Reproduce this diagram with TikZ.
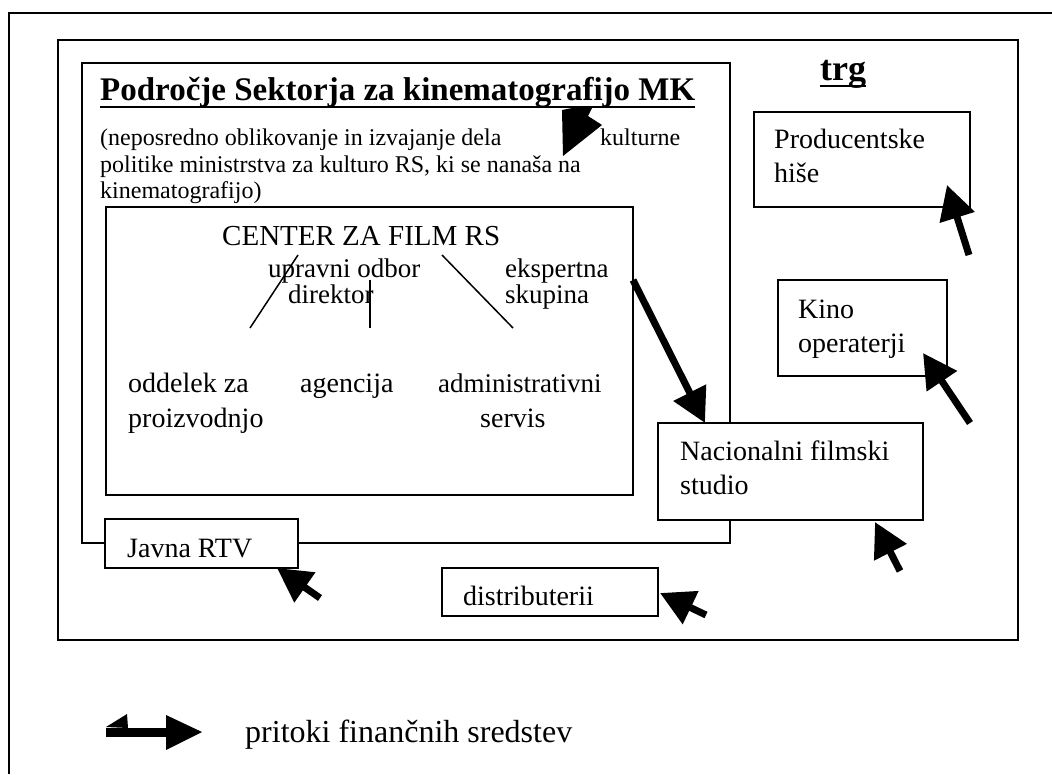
\documentclass[tikz,border=0pt]{standalone}
\usepackage{fontspec}
\setmainfont{Liberation Serif}
\usetikzlibrary{arrows.meta}
\begin{document}
\begin{tikzpicture}[x=1pt,y=-1pt,
  frame/.style={line width=2pt},
  box/.style={draw, line width=1.5pt},
  wbox/.style={draw, line width=1.5pt, fill=white},
  lbl/.style={anchor=base west, inner sep=0pt, align=left, font=\fontsize{28}{34}\selectfont},
  clbl/.style={anchor=base west, inner sep=0pt, align=left, font=\fontsize{27}{30}\selectfont},
  body/.style={anchor=base west, inner sep=0pt, align=left, font=\fontsize{24}{26.5}\selectfont},
  ttl/.style={anchor=base west, inner sep=0pt, font=\fontsize{33}{36}\selectfont\bfseries},
  thin/.style={line width=1.5pt},
  flow/.style={line width=7pt, -{Triangle[length=34pt 0 0, width=35pt 0 0]}},
  ulin/.style={line width=2.5pt}
]
\useasboundingbox (0,0) rectangle (1052,774);
% outer frame (top and left only)
\draw[frame] (1052,13) -- (9,13) -- (9,774);
% market rectangle
\draw[frame] (58,40) rectangle (1018,640);
\node[ttl, font=\fontsize{36}{40}\selectfont\bfseries] (trg) at (820,80) {trg};
\draw[ulin] ([yshift=-6pt]trg.base west) -- ([yshift=-6pt]trg.base east);
% sector box
\draw[box] (82,63) rectangle (730,543);
\node[ttl] (title) at (100,100) {Področje Sektorja za kinematografijo MK};
\draw[ulin] ([yshift=-7pt]title.base west) -- ([yshift=-7pt]title.base east);
\node[body] (b1) at (100,145) {(neposredno oblikovanje in izvajanje dela};
\node[body] (b1b) at (600,145) {kulturne};
\node[body] (b2) at (100,172) {politike ministrstva za kulturo RS, ki se nanaša na};
\node[body] (b3) at (100,198) {kinematografijo)};
% arrowhead in the text
\fill (562,110) -- (572,108) -- (592,108) -- (588,116) -- (602,125) -- (563,156) -- cycle;
% center box
\draw[box] (106,207) rectangle (633,495);
\node[anchor=base west, inner sep=0pt, font=\fontsize{29}{34}\selectfont] (cfr) at (222,245) {CENTER ZA FILM RS};
\node[clbl] (uo) at (268,277) {upravni odbor};
\node[clbl] (dir) at (288,303) {direktor};
\node[clbl] (eks) at (505,277) {ekspertna};
\node[clbl] (sku) at (505,303) {skupina};
\draw[thin] (298,255) -- (250,328);
\draw[thin] (370,280) -- (370,328);
\draw[thin] (442,255) -- (513,328);
\node[lbl] (odd) at (128,392) {oddelek za};
\node[lbl] (pro) at (128,427) {proizvodnjo};
\node[lbl] (age) at (300,392) {agencija};
\node[lbl, font=\fontsize{27}{34}\selectfont] (adm) at (438,392) {administrativni};
\node[lbl] (ser) at (480,427) {servis};
% market boxes
\draw[wbox] (754,112) rectangle (970,207);
\node[lbl] (prod) at (774,148) {Producentske};
\node[lbl] (hise) at (774,182) {hiše};
\draw[wbox] (778,280) rectangle (947,376);
\node[lbl] (kino) at (798,318) {Kino};
\node[lbl] (oper) at (798,352) {operaterji};
\draw[wbox] (658,423) rectangle (923,520);
\node[lbl] (nac) at (680,460) {Nacionalni filmski};
\node[lbl] (stu) at (680,494) {studio};
\draw[wbox] (105,519) rectangle (298,568);
\node[lbl] (rtv) at (127,557) {Javna RTV};
\draw[wbox] (442,568) rectangle (658,616);
\node[lbl] (dis) at (463,605) {distributerii};
% flow arrows
\coordinate (a1s) at (633,280); \coordinate (a1e) at (705,423);
\coordinate (a2s) at (969,255); \coordinate (a2e) at (947,185);
\coordinate (a3s) at (970,423); \coordinate (a3e) at (923,353);
\coordinate (a4s) at (900,571); \coordinate (a4e) at (875,522);
\coordinate (a5s) at (320,598); \coordinate (a5e) at (277,568);
\coordinate (a6s) at (706,615); \coordinate (a6e) at (660,593);
\draw[flow] (a1s) -- (a1e);
\draw[flow] (a2s) -- (a2e);
\draw[flow] (a3s) -- (a3e);
\draw[flow] (a4s) -- (a4e);
\draw[flow] (a5s) -- (a5e);
\draw[flow] (a6s) -- (a6e);
% legend
\fill (106,728) rectangle (167,737);
\fill (166,715) -- (166,750) -- (202,732) -- cycle;
\fill (106,727) -- (127,714) -- (128,728) -- cycle;
\node[anchor=base west, inner sep=0pt, font=\fontsize{32}{36}\selectfont] (leg) at (245,742) {pritoki finančnih sredstev};
\end{tikzpicture}
\end{document}
